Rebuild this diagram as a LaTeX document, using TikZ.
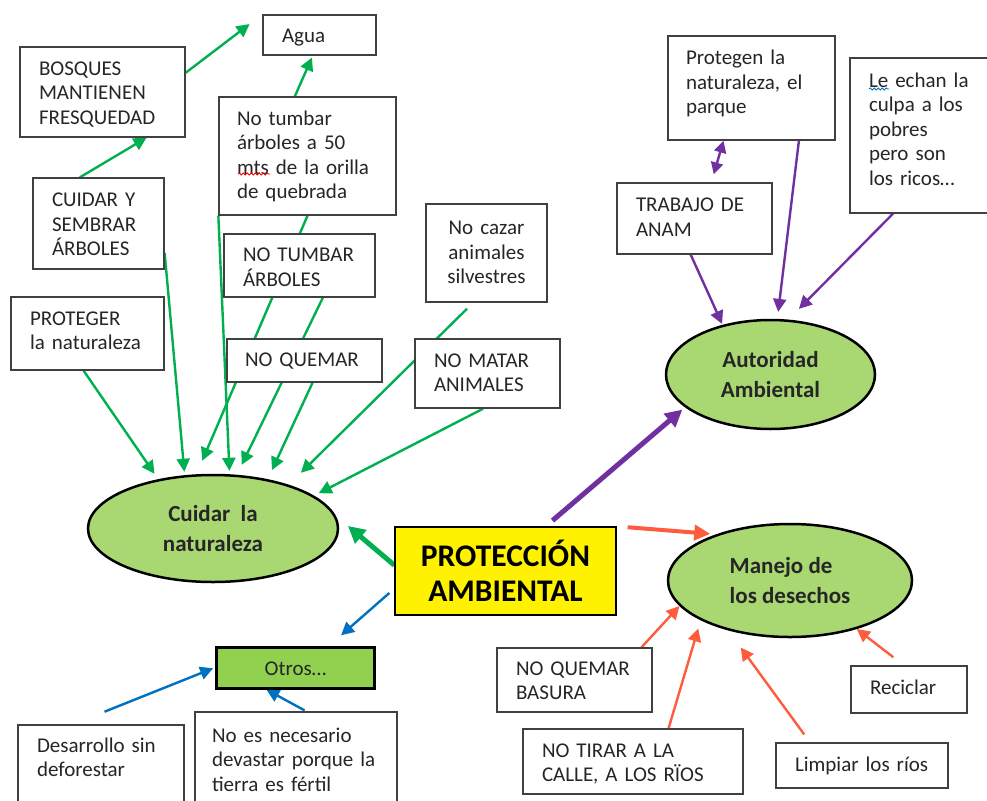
\documentclass[tikz,border=0pt]{standalone}
\usepackage{fontspec}
\setmainfont{Carlito}
\usetikzlibrary{arrows.meta,shapes.geometric,decorations.pathmorphing}
\pgfdeclarelayer{background}
\pgfsetlayers{background,main}
\definecolor{cgreen}{HTML}{00B050}
\definecolor{cpurple}{HTML}{7030A0}
\definecolor{cblue}{HTML}{0070C0}
\definecolor{cred}{HTML}{FF5B3D}
\definecolor{efill}{HTML}{A9D873}
\definecolor{ofill}{HTML}{92D050}
\definecolor{bord}{HTML}{404040}
\tikzset{
  box/.style={draw=bord, line width=1.3pt, fill=white, inner xsep=19pt, inner ysep=0pt,
    align=left, font=\fontsize{21}{24.5}\selectfont, text=black!85},
  tb/.style 2 args={text height=#1pt, text depth=#2pt},
  oval/.style={ellipse, draw=black, line width=2.5pt, fill=efill, inner sep=0pt,
    font=\bfseries\fontsize{23}{29.5}\selectfont, text=black!85},
  arr/.style={line width=2.4pt, -{Triangle[length=13pt,width=13pt]}},
  bigarr/.style={line width=5pt, -{Triangle[length=17pt,width=17pt]}},
  midarr/.style={line width=4pt, -{Triangle[length=16pt,width=15pt]}},
  squig/.style={decorate, decoration={snake, amplitude=1pt, segment length=4pt}, line width=0.8pt}
}
\begin{document}
\begin{tikzpicture}[x=1pt,y=-1pt]
\useasboundingbox (0,0) rectangle (987,800);
\begin{pgfonlayer}{background}
\fill[white] (0,0) rectangle (987,800);
\end{pgfonlayer}

% boxes
\node[box, tb={21}{5}, text width=75pt, minimum height=40pt] (agua) at (319.5,35) {Agua};
\node[box, tb={21}{54}, text width=127pt, minimum height=90pt] (bosques) at (102.5,92) {BOSQUES\\MANTIENEN\\FRESQUEDAD};
\node[box, tb={20}{54}, text width=93pt, minimum height=91pt] (cuidary) at (98.5,223.5) {CUIDAR Y\\SEMBRAR\\ÁRBOLES};
\node[box, tb={16.9}{78.5}, inner xsep=18pt, text width=141pt, minimum height=118pt] (notumbar50) at (307.5,156) {No tumbar\\árboles a 50\\mts de la orilla\\de quebrada};
\node[box, tb={21.5}{29.5}, text width=113pt, minimum height=63pt] (notumbar) at (299.5,265.5) {NO TUMBAR\\ÁRBOLES};
\node[box, tb={13.1}{29.5}, text width=115pt, minimum height=73pt] (proteger) at (87.5,333.5) {PROTEGER\\la naturaleza};
\node[box, tb={17.6}{5}, inner xsep=18pt, text width=119pt, minimum height=43pt] (noquemar) at (304.5,360.5) {NO QUEMAR};
\node[box, tb={17}{54}, inner xsep=10pt, text width=101pt, minimum height=98pt, align=center] (nocazar) at (486.5,253) {No cazar\\animales\\silvestres};
\node[box, tb={17.1}{29.5}, text width=107pt, minimum height=69pt] (nomatar) at (487.5,373.5) {NO MATAR\\ANIMALES};
\node[box, tb={7.6}{54}, inner xsep=18pt, text width=131pt, minimum height=104pt] (protegen) at (751.5,88) {Protegen la\\naturaleza, el\\parque};
\node[box, tb={6}{103}, text width=108pt, minimum height=155pt] (leechan) at (923,135.5) {Le echan la\\culpa a los\\pobres\\pero son\\los ricos…};
\node[box, tb={15.5}{29.5}, text width=117pt, minimum height=71pt] (trabajo) at (694.5,218.5) {TRABAJO DE\\ANAM};
\node[draw=black, line width=3pt, fill=ofill, minimum width=158pt, minimum height=41pt, inner sep=0pt,
  tb={21}{5}, font=\fontsize{21}{24.5}\selectfont, text=black!85] (otros) at (295.5,667.5) {Otros…};
\node[box, tb={12.1}{49.5}, text width=128pt, minimum height=92pt] (desarrollo) at (101,771) {Desarrollo sin\\deforestar};
\node[box, tb={18.6}{54}, inner xsep=17pt, text width=168pt, minimum height=96pt] (noesnec) at (296,760) {No es necesario\\devastar porque la\\tierra es fértil};
\node[box, tb={20.1}{29.5}, text width=117pt, minimum height=64pt] (nqbasura) at (574.5,680) {NO QUEMAR\\BASURA};
\node[box, tb={20.9}{29.5}, text width=182pt, minimum height=65pt] (notirar) at (633,761.5) {NO TIRAR A LA\\CALLE, A LOS RÏOS};
\node[box, tb={17}{5}, text width=134pt, minimum height=45pt] (limpiar) at (862,765.5) {Limpiar los ríos};
\node[box, tb={14.4}{5}, text width=78pt, minimum height=47pt] (reciclar) at (909,689.5) {Reciclar};

% central and ellipses
\node[draw=black, line width=1.3pt, fill=yellow, minimum width=221pt, minimum height=88pt, inner sep=0pt,
  align=center, font=\bfseries\fontsize{31.5}{35}\selectfont] (protec) at (505.5,571) {PROTECCIÓN\\AMBIENTAL};
\node[oval, minimum width=250pt, minimum height=107pt, align=center] (cuidar) at (213,528.5) {Cuidar~~la\\naturaleza};
\node[oval, minimum width=209pt, minimum height=109pt, align=center] (autoridad) at (770.5,374.5) {Autoridad\\Ambiental};
\node[oval, minimum width=244pt, minimum height=113pt, align=left] (manejo) at (790,580.5) {Manejo de\\los desechos};

% spell-check squiggles
\draw[squig, red] (238,174) -- (270,174);
\draw[squig, cblue] (869,89) -- (889,89);

\begin{pgfonlayer}{background}
% green
\draw[arr, cgreen, shorten >=16pt] (bosques.13.6) -- (agua.north west);
\draw[arr, cgreen, shorten >=2pt] (notumbar50.102) -- (agua.-108);
\draw[arr, cgreen] (cuidary.112.1) -- (bosques.-46.6);
\draw[arr, cgreen, shorten >=6.5pt] (proteger.-96.5) -- (cuidar.138.4);
\draw[arr, cgreen, shorten >=3.4pt] (cuidary.-24.6) -- (cuidar.118);
\draw[arr, cgreen, shorten >=14.7pt] (notumbar50.south) -- (cuidar.107.5);
\draw[arr, cgreen, shorten >=3.4pt] (notumbar50.south west) -- (cuidar.73.1);
\draw[arr, cgreen, shorten >=11pt] (notumbar.-54.5) -- (cuidar.66.2);
\draw[arr, cgreen, shorten >=10pt] (noquemar.-70.8) -- (cuidar.42);
\draw[arr, cgreen, shorten <=8.6pt, shorten >=17pt] (nocazar.-105.4) -- (cuidar.30.9);
\draw[arr, cgreen, shorten >=5.3pt] (nomatar.-97.4) -- (cuidar.18.6);
\draw[bigarr, cgreen, shorten >=16pt] (protec.177.9) -- (cuidar.6.5);
% purple
\draw[bigarr, cpurple, shorten <=8.9pt, shorten >=3.5pt] (protec.48.1) -- (autoridad.201.9);
\draw[arr, cpurple, shorten >=1pt] (trabajo.-96.1) -- (autoridad.134.7);
\draw[arr, cpurple, shorten >=7pt] (protegen.-48.8) -- (autoridad.83);
\draw[arr, cpurple, shorten >=15pt] (leechan.-111.8) -- (autoridad.72.3);
\draw[line width=2.4pt, cpurple, {Triangle[length=12pt,width=12pt]}-{Triangle[length=12pt,width=12pt]}, shorten >=8.3pt] (protegen.-118.7) -- (trabajo.65.3);
% blue
\draw[arr, cblue, shorten <=6.6pt, shorten >=15.5pt] (protec.189.2) -- (otros.33.9);
\draw[arr, cblue, shorten <=34pt, shorten >=2pt] (desarrollo.121.3) -- (otros.west);
\draw[arr, cblue, shorten <=2pt] (noesnec.78.2) -- (otros.-143.3);
% red
\draw[midarr, cred, shorten <=11pt, shorten >=5.8pt] (protec.north east) -- (manejo.148.9);
\draw[arr, cred] (nqbasura.26.5) -- (manejo.193.9);
\draw[arr, cred, shorten >=8.5pt] (notirar.43.7) -- (manejo.204.3);
\draw[arr, cred, shorten <=9.8pt, shorten >=21pt] (limpiar.156.4) -- (manejo.219.9);
\draw[arr, cred, shorten <=13.3pt] (reciclar.102.7) -- (manejo.-36.9);
\end{pgfonlayer}
\end{tikzpicture}
\end{document}
